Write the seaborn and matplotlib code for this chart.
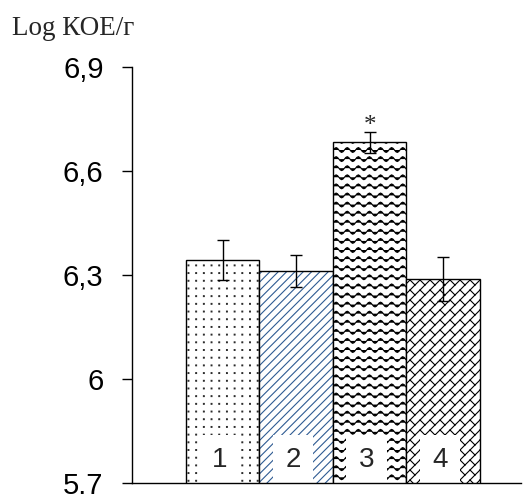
import warnings
import numpy as np
import matplotlib
matplotlib.use("Agg")
import matplotlib.pyplot as plt
import matplotlib.colors as mcolors
from matplotlib import hatch as mhatch
from matplotlib.path import Path
import seaborn as sns

warnings.filterwarnings("ignore", message=".*hatch must consist.*")

# data
groups = ["1", "2", "3", "4"]
means = [6.343, 6.311, 6.683, 6.288]
errs = [0.058, 0.047, 0.030, 0.064]
marks = ["", "", "*", ""]
yticks = [5.7, 6.0, 6.3, 6.6, 6.9]
ytick_labels = ["5.7", "6", "6,3", "6,6", "6,9"]
ylabel = "Log КОЕ/г"

hatches = ["d", "////", "w", "b"]
hatch_colors = ["#222222", "#2f5b93", "black", "black"]


class DotGridHatch(mhatch.HatchPatternBase):
    # small dots on a square grid
    def __init__(self, hatch, density):
        self.n = hatch.count("d") * 13
        self.num_vertices = self.n * self.n * 5

    def set_vertices_and_codes(self, vertices, codes):
        s = 0.004
        sq = np.array([[-s, -s], [s, -s], [s, s], [-s, s], [-s, -s]])
        i = 0
        for r in range(self.n):
            for c in range(self.n):
                vertices[i:i + 5] = sq + [(c + 0.5) / self.n, (r + 0.5) / self.n]
                codes[i:i + 5] = [Path.MOVETO, Path.LINETO, Path.LINETO,
                                  Path.LINETO, Path.CLOSEPOLY]
                i += 5


class WaveHatch(mhatch.HatchPatternBase):
    # wavy rows
    def __init__(self, hatch, density):
        self.rows = hatch.count("w") * 11
        self.waves = 9
        self.npts = self.waves * 8 + 1
        self.num_vertices = self.rows * self.npts

    def set_vertices_and_codes(self, vertices, codes):
        t = np.linspace(0, 1, self.npts)
        for r in range(self.rows):
            sl = slice(r * self.npts, (r + 1) * self.npts)
            vertices[sl, 0] = t
            vertices[sl, 1] = (r + 0.5) / self.rows + 0.024 * np.sin(2 * np.pi * self.waves * t)
            codes[sl] = Path.LINETO
            codes[r * self.npts] = Path.MOVETO


class BrickHatch(mhatch.HatchPatternBase):
    # diagonal brick fill: "/" rows with staggered short joints
    def __init__(self, hatch, density):
        reps = hatch.count("b")
        segs = []
        if reps:
            n, m = 10 * reps, 5
            for k in range(-n - 1, n + 2):
                c = k / n
                segs.append(((-0.2, -0.2 + c), (1.2, 1.2 + c)))
                for j in range(int(np.floor((c - 0.5) * m)), int(np.ceil((c + 2.5) * m)) + 1):
                    u = j / m + (0.5 / m if k % 2 else 0.0)
                    t = (u - c) / 2
                    segs.append(((t, t + c), (t + 0.5 / n, t + c - 0.5 / n)))
        self.segs = np.array(segs, dtype=float).reshape(-1, 2)
        self.num_vertices = len(self.segs)

    def set_vertices_and_codes(self, vertices, codes):
        vertices[:] = self.segs
        codes[0::2] = Path.MOVETO
        codes[1::2] = Path.LINETO


mhatch._hatch_types.extend([DotGridHatch, WaveHatch, BrickHatch])

sns.set_theme(style="white")
plt.rcParams["font.family"] = ["Liberation Sans", "DejaVu Sans"]
plt.rcParams["hatch.linewidth"] = 0.8

fig = plt.figure(figsize=(5.23, 4.95), dpi=100)
ax = fig.add_axes([132 / 523, 12 / 495, 389 / 523, 416 / 495])

sns.barplot(x=groups, y=means, color="white", saturation=1, width=1.0,
            edgecolor="black", linewidth=1.0, errorbar=None, ax=ax)

for p, h, hc in zip(ax.patches, hatches, hatch_colors):
    p.set_hatch(h)
    p._hatch_color = mcolors.to_rgba(hc)

xs = np.arange(len(groups))
ax.errorbar(xs, means, yerr=errs, fmt="none", ecolor="black",
            elinewidth=1.0, capsize=4.2, capthick=1.0, zorder=3)

# group numbers on white boxes at the bottom of each bar
for x, g in zip(xs, groups):
    ax.text(x - 0.04, 0.055, g, transform=ax.get_xaxis_transform(),
            ha="center", va="center", fontsize=20, zorder=2.2,
            bbox=dict(boxstyle="square,pad=0.45", fc="white", ec="none"))

for x, m, e, s in zip(xs, means, errs, marks):
    if s:
        ax.annotate(s, (x, m + e), xytext=(0, 0), textcoords="offset points",
                    ha="center", va="baseline", fontsize=18,
                    family="Liberation Serif")

ax.set_ylim(5.7, 6.9)
ax.set_xlim(-1.235, 4.06)
ax.set_yticks(yticks)
ax.set_yticklabels(ytick_labels)
ax.set_xticks([])
ax.set_xlabel("")
ax.tick_params(axis="y", direction="out", length=7.5, width=1.0, pad=13,
               labelsize=21, colors="black", left=True)
for side in ["top", "right"]:
    ax.spines[side].set_visible(False)
for side in ["left", "bottom"]:
    ax.spines[side].set_color("black")
    ax.spines[side].set_linewidth(1.0)

fig.text(12 / 523, 1 - 35 / 495, ylabel, family="Liberation Serif",
         fontsize=19.5, ha="left", va="baseline")

fig.savefig("out.png", dpi=100, facecolor="white")
